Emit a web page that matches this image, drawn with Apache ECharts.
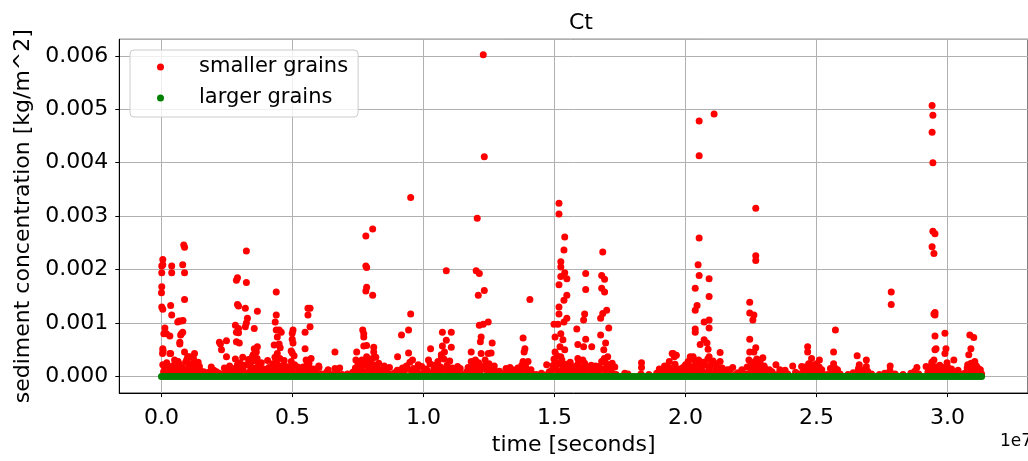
<!DOCTYPE html>
<html><head><meta charset="utf-8">
<script src="https://cdn.jsdelivr.net/npm/echarts@6/dist/echarts.min.js"></script>
<style>html,body{margin:0;padding:0;background:#fff}#c{width:1028px;height:461px}</style>
</head><body><div id="c"></div>
<script>
// time in units of 1e7 seconds, concentration in kg/m^2
const smallerPeaks = [
[0.005,0.00219],[0.001,0.00207],[0.005,0.00209],[0.001,0.00194],[0.001,0.00168],[0.0,0.00157],[0.005,0.00126],[0.001,0.0013],
[0.013,0.00091],[0.009,0.0008],[0.019,0.0008],[0.005,0.00052],[0.004,0.00043],[0.005,0.00022],[0.039,0.00207],[0.039,0.00194],
[0.035,0.00133],[0.039,0.00115],[0.032,0.00076],[0.035,0.00043],[0.025,0.00012],[0.006,0.00049],[0.032,0.00043],[0.063,0.00028],
[0.067,0.00104],[0.082,0.00105],[0.076,0.0008],[0.07,0.00064],[0.088,0.00046],[0.126,0.00043],[0.107,0.00037],
[0.085,0.00246],[0.088,0.00242],[0.081,0.00209],[0.088,0.00194],[0.088,0.00144],[0.077,0.00104],[0.062,0.00102],[0.081,0.00083],
[0.073,0.00078],[0.07,0.00061],[0.1,0.00037],[0.062,0.00028],[0.134,0.00022],[0.096,0.00031],
[0.225,0.00061],[0.248,0.00067],[0.229,0.0005],[0.248,0.00037],[0.221,0.00064],[0.282,0.00033],[0.29,0.00022],[0.161,0.00009],
[0.29,0.00185],[0.286,0.0018],[0.324,0.00176],[0.324,0.00235],[0.29,0.00135],[0.294,0.00132],[0.32,0.00128],[0.328,0.00109],
[0.324,0.001],[0.32,0.00093],[0.282,0.00096],[0.294,0.0009],[0.286,0.00083],[0.294,0.00082],[0.286,0.00065],[0.297,0.00063],
[0.366,0.00122],[0.354,0.0009],[0.354,0.00052],[0.366,0.00056],[0.362,0.00046],[0.347,0.00037],[0.328,0.00022],[0.381,0.00026],
[0.335,0.00028],[0.309,0.00015],[0.405,0.0003],
[0.438,0.00158],[0.438,0.00115],[0.434,0.00102],[0.438,0.00087],[0.449,0.00087],[0.457,0.00083],[0.43,0.00059],[0.449,0.00061],
[0.453,0.00054],[0.442,0.00043],[0.438,0.00031],[0.43,0.00015],[0.442,0.00074],[0.468,0.0003],
[0.502,0.00087],[0.499,0.00081],[0.499,0.0007],[0.502,0.00063],[0.495,0.00048],[0.499,0.00044],[0.495,0.00028],[0.506,0.00039],[0.495,0.00013],
[0.559,0.00128],[0.567,0.00128],[0.559,0.00115],[0.567,0.00093],[0.548,0.00083],[0.548,0.00052],[0.571,0.00034],[0.552,0.00031],
[0.563,0.00025],[0.601,0.00017],[0.636,0.00013],[0.662,0.00046],[0.662,0.00015],
[0.78,0.00263],[0.806,0.00276],[0.78,0.00207],[0.783,0.00204],[0.783,0.00167],[0.78,0.0016],[0.806,0.00152],[0.768,0.00087],
[0.772,0.0008],[0.772,0.00074],[0.772,0.00057],[0.783,0.00058],[0.81,0.00055],[0.81,0.00046],[0.745,0.00046],[0.742,0.00031],
[0.783,0.00037],[0.818,0.00036],[0.799,0.00027],[0.829,0.00025],[0.761,0.00019],[0.791,0.00015],
[0.951,0.00335],[0.951,0.00117],[0.943,0.00087],[0.916,0.00078],[0.901,0.00037],[0.943,0.00044],[0.958,0.00031],[0.993,0.00019],[0.852,0.00015],
[1.087,0.00198],[1.072,0.00083],[1.106,0.00083],[1.087,0.00068],[1.072,0.00057],[1.106,0.00055],[1.068,0.00037],[1.08,0.00046],
[1.027,0.00052],[1.019,0.00031],[1.068,0.00041],[1.045,0.00019],
[1.228,0.00602],[1.232,0.00411],[1.205,0.00296],[1.201,0.00198],[1.213,0.00193],[1.209,0.00152],[1.232,0.00161],[1.213,0.00096],
[1.228,0.00098],[1.247,0.00102],[1.22,0.00074],[1.217,0.00065],[1.182,0.00046],[1.22,0.00043],[1.198,0.00031],[1.262,0.00063],
[1.258,0.00044],[1.247,0.00043],[1.182,0.00028],[1.14,0.00015],
[1.406,0.00144],[1.38,0.00072],[1.387,0.00052],[1.384,0.00046],[1.38,0.00028],[1.399,0.00028],[1.315,0.00015],
[1.517,0.00324],[1.517,0.00304],[1.539,0.00261],[1.536,0.00237],[1.524,0.00215],[1.524,0.00205],[1.539,0.00194],[1.524,0.00187],
[1.547,0.00183],[1.517,0.00172],[1.547,0.00152],[1.536,0.00143],[1.517,0.0013],[1.517,0.00117],[1.547,0.00109],[1.536,0.00102],
[1.498,0.00098],[1.513,0.00098],[1.524,0.0008],[1.502,0.00074],[1.532,0.00069],[1.521,0.00056],[1.502,0.00046],[1.539,0.0005],
[1.498,0.00033],[1.532,0.00019],[1.524,0.00037],
[1.619,0.00193],[1.619,0.00163],[1.615,0.00117],[1.611,0.00106],[1.585,0.00089],[1.619,0.0007],[1.611,0.00056],[1.589,0.0006],
[1.642,0.00056],[1.589,0.00034],[1.615,0.00025],[1.657,0.0002],
[1.684,0.00233],[1.68,0.00189],[1.691,0.00182],[1.68,0.00165],[1.691,0.00158],[1.699,0.00124],[1.684,0.00118],[1.676,0.00109],
[1.707,0.00091],[1.676,0.00078],[1.695,0.00063],[1.688,0.0005],[1.703,0.00037],[1.695,0.00026],[1.832,0.00026],[1.832,0.00017],[1.768,0.00006],
[1.949,0.00043],[1.965,0.0004],[1.938,0.00028],[1.93,0.00019],[2.018,0.00037],[2.01,0.00028],[1.919,0.00015],
[2.052,0.00478],[2.109,0.00491],[2.052,0.00413],[2.052,0.00259],[2.048,0.00209],[2.052,0.00189],[2.09,0.00183],[2.037,0.00165],
[2.09,0.0015],[2.044,0.00133],[2.037,0.00124],[2.071,0.00102],[2.09,0.00106],[2.09,0.00091],[2.037,0.00089],[2.037,0.00083],
[2.071,0.00069],[2.082,0.00063],[2.056,0.0006],[2.086,0.00051],[2.09,0.00037],[2.132,0.00045],[2.132,0.00028],[2.029,0.00037],
[2.033,0.00031],[1.953,0.00043],[1.957,0.00037],[2.17,0.00013],[2.113,0.00024],
[2.268,0.00315],[2.268,0.00226],[2.268,0.00217],[2.245,0.00139],[2.245,0.00119],[2.261,0.00115],[2.257,0.00106],[2.245,0.0007],
[2.268,0.00054],[2.245,0.00046],[2.261,0.00046],[2.272,0.00033],[2.295,0.00035],[2.242,0.00031],[2.303,0.00015],[2.215,0.00013],
[2.345,0.00022],[2.36,0.00013],[2.409,0.0002],
[2.466,0.00056],[2.466,0.00046],[2.481,0.00034],[2.511,0.00031],[2.462,0.00015],[2.443,0.00019],
[2.572,0.00087],[2.565,0.00046],[2.565,0.00024],[2.553,0.00015],[2.655,0.00039],[2.663,0.00022],[2.69,0.00031],[2.69,0.00019],
[2.785,0.00158],[2.785,0.00135],[2.781,0.0002],[2.883,0.00017],
[2.941,0.00507],[2.944,0.00489],[2.941,0.00457],[2.944,0.004],[2.944,0.00272],[2.952,0.00267],[2.941,0.00243],[2.948,0.0023],
[2.952,0.0012],[2.952,0.00115],[2.948,0.00117],[2.952,0.00076],[2.956,0.00052],[2.99,0.00081],[2.994,0.00052],[2.99,0.00043],
[3.024,0.00031],[2.941,0.00024],[2.952,0.0005],[2.918,0.00019],
[3.085,0.00078],[3.1,0.00073],[3.089,0.00052],[3.081,0.00041],[3.104,0.00028],[3.123,0.00013],[3.077,0.00022]
];
const smallerMid = [
[0.145,0.00019],[0.19,0.00018],[0.26,0.0002],[0.34,0.00027],[0.355,0.0003],[0.37,0.00025],[0.46,0.0002],[0.52,0.00018],[0.6,0.0002],
[0.68,0.00016],[0.85,0.0002],[0.87,0.00017],[0.98,0.00022],[1.04,0.00021],[1.13,0.00019],[1.25,0.00024],[1.27,0.0002],[1.33,0.00017],
[1.47,0.00022],[1.56,0.00027],[1.64,0.00021],[1.66,0.00018],[1.72,0.00025],[1.73,0.00018],[2.0,0.00022],[2.06,0.0002],[2.1,0.00025],
[2.12,0.00018],[2.18,0.00017],[2.28,0.00024],[2.3,0.0002],[2.48,0.00021],[2.5,0.00024],[2.51,0.00018],[2.94,0.00027],[2.97,0.00021],
[3.0,0.00018],[3.11,0.0002],[3.09,0.00025]
];
const smallerDense = [
[0.012,0.00018],[0.02,0.00026],[0.03,0.00015],[0.042,0.0002],[0.05,0.00031],[0.058,0.00017],[0.068,0.00023],[0.08,0.00016],[0.092,0.00027],
[0.104,0.00018],[0.115,0.00024],[0.122,0.00034],[0.13,0.00016],[0.14,0.00027],[0.118,0.00013],[0.097,0.00011],
[0.2,0.00012],[0.24,0.00016],[0.255,0.00013],
[0.285,0.00017],[0.3,0.00026],[0.31,0.00036],[0.318,0.00021],[0.332,0.00032],[0.342,0.00018],[0.35,0.00041],[0.358,0.00016],[0.365,0.00034],
[0.375,0.00019],[0.39,0.00014],[0.41,0.00017],
[0.425,0.00024],[0.433,0.00036],[0.445,0.00021],[0.452,0.00034],[0.462,0.00014],[0.475,0.00019],[0.49,0.00017],[0.508,0.00022],[0.525,0.00014],
[0.54,0.00018],[0.555,0.00021],[0.565,0.00016],[0.58,0.00014],
[0.74,0.00016],[0.75,0.00024],[0.765,0.00031],[0.777,0.00021],[0.787,0.00027],[0.795,0.00018],[0.805,0.00034],[0.813,0.00021],[0.822,0.00016],[0.835,0.00013],
[0.9,0.00012],[0.92,0.00016],[0.935,0.0002],[0.948,0.00027],[0.962,0.00015],[0.975,0.00012],
[1.01,0.00014],[1.025,0.00024],[1.04,0.00016],[1.055,0.00028],[1.065,0.00018],[1.078,0.00033],[1.09,0.00021],[1.1,0.00029],[1.11,0.00016],
[1.125,0.00013],[1.17,0.00017],[1.19,0.00021],[1.2,0.00016],[1.21,0.00026],[1.225,0.00019],[1.235,0.00031],[1.24,0.00022],[1.255,0.00016],[1.27,0.00013],
[1.34,0.00013],[1.36,0.00016],[1.375,0.00021],[1.39,0.00018],[1.41,0.00013],
[1.495,0.00021],[1.505,0.00027],[1.51,0.00039],[1.52,0.00024],[1.528,0.00031],[1.535,0.00016],[1.545,0.00023],[1.555,0.00018],[1.565,0.00015],
[1.578,0.00019],[1.59,0.00024],[1.6,0.00016],[1.608,0.00031],[1.622,0.00018],[1.63,0.00014],[1.65,0.00016],[1.67,0.00019],[1.68,0.00028],
[1.69,0.00034],[1.698,0.00016],[1.71,0.00021],[1.715,0.00013],
[1.9,0.00014],[1.92,0.0002],[1.94,0.00016],[1.96,0.00023],[1.975,0.00014],[1.99,0.00017],[2.0,0.00012],[2.02,0.00019],[2.04,0.00024],
[2.05,0.00031],[2.06,0.00016],[2.068,0.00027],[2.078,0.00021],[2.085,0.00033],[2.095,0.00019],[2.105,0.00029],[2.12,0.00014],[2.14,0.00016],[2.16,0.00013],
[2.235,0.00018],[2.25,0.00024],[2.258,0.00017],[2.265,0.00028],[2.278,0.00019],[2.285,0.00029],[2.3,0.00016],[2.32,0.00013],[2.38,0.00012],
[2.455,0.00018],[2.47,0.00024],[2.485,0.00016],[2.495,0.00021],[2.52,0.00013],
[2.57,0.00016],[2.58,0.00013],[2.66,0.00015],[2.68,0.00013],
[2.93,0.00016],[2.94,0.00021],[2.948,0.00031],[2.96,0.00018],[2.97,0.00014],[2.985,0.00017],[2.998,0.00026],[3.015,0.00014],[3.04,0.00012],
[3.075,0.00016],[3.085,0.00021],[3.095,0.00018],[3.105,0.00022],[3.115,0.00016],[3.125,0.00013]
];
const smallerLowBand = [
[0.008,0.00009],[0.018,0.00006],[0.028,0.00011],[0.045,0.00007],[0.052,0.00012],[0.06,0.00005],[0.075,0.00009],[0.09,0.00013],[0.1,0.00006],
[0.11,0.00011],[0.12,0.00008],[0.135,0.00012],[0.145,0.00006],[0.15,0.0001],[0.17,0.00005],[0.18,0.00008],[0.195,0.00004],[0.21,0.00009],
[0.22,0.00006],[0.235,0.00005],[0.25,0.00011],[0.265,0.00007],[0.28,0.00012],[0.295,0.00005],[0.3,0.00009],[0.31,0.00013],[0.33,0.00007],
[0.34,0.00012],[0.35,0.0001],[0.36,0.00014],[0.37,0.00006],[0.38,0.0001],[0.39,0.00005],[0.4,0.00008],[0.415,0.00004],[0.425,0.00009],
[0.44,0.00012],[0.455,0.00007],[0.47,0.00011],[0.485,0.00005],[0.5,0.0001],[0.515,0.00004],[0.53,0.00008],[0.545,0.00013],[0.56,0.00009],
[0.575,0.00012],[0.59,0.00006],[0.61,0.00005],[0.63,0.00008],[0.65,0.00004],[0.67,0.00007],[0.69,0.00004],[0.71,0.00005],[0.73,0.00008],
[0.75,0.00011],[0.76,0.00013],[0.77,0.00009],[0.79,0.00012],[0.8,0.00006],[0.815,0.00013],[0.83,0.0001],[0.845,0.00006],[0.86,0.00008],
[0.875,0.00004],[0.89,0.00007],[0.91,0.00012],[0.925,0.00008],[0.94,0.00014],[0.955,0.00006],[0.97,0.0001],[0.985,0.00005],[1.0,0.00007],
[1.015,0.00011],[1.03,0.00006],[1.05,0.00012],[1.06,0.00008],[1.075,0.00013],[1.09,0.0001],[1.1,0.00005],[1.115,0.00011],[1.13,0.00006],
[1.15,0.00004],[1.165,0.00009],[1.18,0.00012],[1.19,0.00007],[1.205,0.00013],[1.215,0.0001],[1.23,0.00014],[1.245,0.00008],[1.26,0.00012],
[1.275,0.00006],[1.29,0.0001],[1.3,0.00005],[1.32,0.00009],[1.335,0.00004],[1.35,0.00007],[1.37,0.0001],[1.385,0.00013],[1.4,0.00008],
[1.415,0.00005],[1.43,0.00004],[1.45,0.00006],[1.465,0.00003],[1.48,0.00009],[1.49,0.00012],[1.505,0.00014],[1.515,0.00009],[1.53,0.00013],
[1.545,0.00006],[1.555,0.00011],[1.57,0.00008],[1.585,0.00012],[1.6,0.00005],[1.61,0.0001],[1.625,0.00013],[1.64,0.00008],[1.655,0.00005],
[1.67,0.00011],[1.68,0.00014],[1.695,0.00009],[1.71,0.00012],[1.72,0.00006],[1.735,0.00004],[1.78,0.00005],[1.83,0.00005],[1.86,0.00004],
[1.89,0.00006],[1.9,0.00009],[1.915,0.00005],[1.93,0.00011],[1.945,0.00007],[1.96,0.00012],[1.975,0.00005],[1.99,0.00008],[2.005,0.00012],
[2.02,0.00006],[2.035,0.00014],[2.045,0.00009],[2.06,0.00013],[2.075,0.00007],[2.09,0.00012],[2.1,0.00005],[2.115,0.00011],[2.13,0.00008],
[2.15,0.00005],[2.165,0.00009],[2.19,0.00004],[2.2,0.00007],[2.23,0.00005],[2.25,0.0001],[2.26,0.00013],[2.275,0.00008],[2.29,0.00011],
[2.31,0.00006],[2.33,0.00009],[2.35,0.00004],[2.37,0.00008],[2.39,0.00005],[2.42,0.00008],[2.435,0.00005],[2.45,0.0001],[2.46,0.00013],
[2.475,0.00007],[2.49,0.00012],[2.505,0.00008],[2.52,0.00005],[2.54,0.00004],[2.56,0.00011],[2.575,0.00007],[2.59,0.00005],[2.62,0.00004],
[2.64,0.00007],[2.66,0.00012],[2.675,0.00006],[2.695,0.0001],[2.71,0.00005],[2.74,0.00004],[2.76,0.00006],[2.78,0.00011],[2.8,0.00005],
[2.83,0.00004],[2.86,0.00006],[2.875,0.0001],[2.89,0.00005],[2.925,0.00008],[2.935,0.00012],[2.945,0.00014],[2.955,0.00009],[2.965,0.00012],
[2.98,0.00007],[2.995,0.0001],[3.01,0.00005],[3.03,0.00008],[3.05,0.00004],[3.065,0.00006],[3.08,0.00011],[3.09,0.00014],[3.1,0.00009],
[3.11,0.00012],[3.12,0.00007],[3.13,0.00005]
];
// larger grains: sample times in units of 1e5 s, concentration ~0
const largerTimesE5 = [0,1,2,3,4,5,6,7,8,9,10,11,12,13,14,15,16,17,18,19,20,21,22,23,24,25,26,27,28,29,30,31,32,33,34,35,36,37,38,39,
40,41,42,43,44,45,46,47,48,49,50,51,52,53,54,55,56,57,58,59,60,61,62,63,64,65,66,67,68,69,70,71,72,73,74,75,76,77,78,79,
80,81,82,83,84,85,86,87,88,89,90,91,92,93,94,95,96,97,98,99,100,101,102,103,104,105,106,107,108,109,110,111,112,113,114,115,116,117,118,119,
120,121,122,123,124,125,126,127,128,129,130,131,132,133,134,135,136,137,138,139,140,141,142,143,144,145,146,147,148,149,150,151,152,153,154,155,156,157,158,159,
160,161,162,163,164,165,166,167,168,169,170,171,172,173,174,175,176,177,178,179,180,181,182,183,184,185,186,187,188,189,190,191,192,193,194,195,196,197,198,199,
200,201,202,203,204,205,206,207,208,209,210,211,212,213,214,215,216,217,218,219,220,221,222,223,224,225,226,227,228,229,230,231,232,233,234,235,236,237,238,239,
240,241,242,243,244,245,246,247,248,249,250,251,252,253,254,255,256,257,258,259,260,261,262,263,264,265,266,267,268,269,270,271,272,273,274,275,276,277,278,279,
280,281,282,283,284,285,286,287,288,289,290,291,292,293,294,295,296,297,298,299,300,301,302,303,304,305,306,307,308,309,310,311,312,313];
const largerConc = 0;
const xTickLabels = ['0.0','0.5','1.0','1.5','2.0','2.5','3.0'];
const yTickLabels = ['0.000','0.001','0.002','0.003','0.004','0.005','0.006'];

const FONT = 'DejaVu Sans';
const red = smallerLowBand.concat(smallerDense, smallerMid, smallerPeaks);
const green = largerTimesE5.map(t => [t / 100, largerConc]);

const chart = echarts.init(document.getElementById('c'), null, {renderer: 'canvas'});
chart.setOption({
  animation: false,
  backgroundColor: '#fff',
  title: {text: 'Ct', left: 576, top: 7, textAlign: 'center',
    textStyle: {fontFamily: FONT, fontSize: 22, fontWeight: 'normal', color: '#000'}},
  legend: {
    left: 130, top: 50, orient: 'vertical',
    padding: [6, 10, 8, 27],
    itemWidth: 7, itemHeight: 7, itemGap: 9,
    backgroundColor: 'rgba(255,255,255,0.8)', borderColor: '#cccccc', borderWidth: 1, borderRadius: 4,
    textStyle: {fontFamily: FONT, fontSize: 21, color: '#000', lineHeight: 22, padding: [0, 0, 0, 30]},
    data: [{name: 'smaller grains', icon: 'circle'}, {name: 'larger grains', icon: 'circle'}]
  },
  grid: {left: 119.3, top: 39.3, width: 913.2, height: 357.4, show: true, borderColor: '#000', borderWidth: 1, containLabel: false},
  xAxis: {
    type: 'value', min: -0.161, max: 3.307,
    name: 'time [seconds]', nameLocation: 'middle', nameGap: 30,
    nameTextStyle: {fontFamily: FONT, fontSize: 22, color: '#000'},
    axisLine: {show: true, onZero: false, lineStyle: {color: '#000', width: 1}},
    axisTick: {show: true, inside: false, length: 4, lineStyle: {color: '#000'}},
    axisLabel: {show: true, showMinLabel: false, showMaxLabel: false, margin: 14,
      fontFamily: FONT, fontSize: 22, color: '#000',
      formatter: v => { const i = Math.round(v / 0.5); return Math.abs(v - i * 0.5) < 1e-9 ? xTickLabels[i] : ''; }},
    splitLine: {show: true, lineStyle: {color: '#b0b0b0', width: 1}}
  },
  yAxis: {
    type: 'value', min: -0.000309, max: 0.006309,
    name: 'sediment concentration [kg/m^2]', nameLocation: 'middle', nameGap: 75, nameRotate: 90,
    nameTextStyle: {fontFamily: FONT, fontSize: 22, color: '#000'},
    axisLine: {show: true, onZero: false, lineStyle: {color: '#000', width: 1}},
    axisTick: {show: true, inside: false, length: 4, lineStyle: {color: '#000'}},
    axisLabel: {show: true, showMinLabel: false, showMaxLabel: false, margin: 11,
      fontFamily: FONT, fontSize: 22, color: '#000',
      formatter: v => { const i = Math.round(v / 0.001); return (i >= 0 && Math.abs(v - i * 0.001) < 1e-9) ? yTickLabels[i] : ''; }},
    splitLine: {show: true, lineStyle: {color: '#b0b0b0', width: 1}}
  },
  graphic: [{type: 'text', right: -4, top: 433, style: {text: '1e7', fontFamily: FONT, fontSize: 17, fill: '#000'}}],
  series: [
    {name: 'smaller grains', type: 'scatter', data: red, symbol: 'circle', symbolSize: 7,
      itemStyle: {color: '#ff0000', opacity: 1}, large: false},
    {name: 'larger grains', type: 'scatter', data: green, symbol: 'circle', symbolSize: 7,
      itemStyle: {color: '#008000', opacity: 1}, large: false}
  ]
});
</script></body></html>
